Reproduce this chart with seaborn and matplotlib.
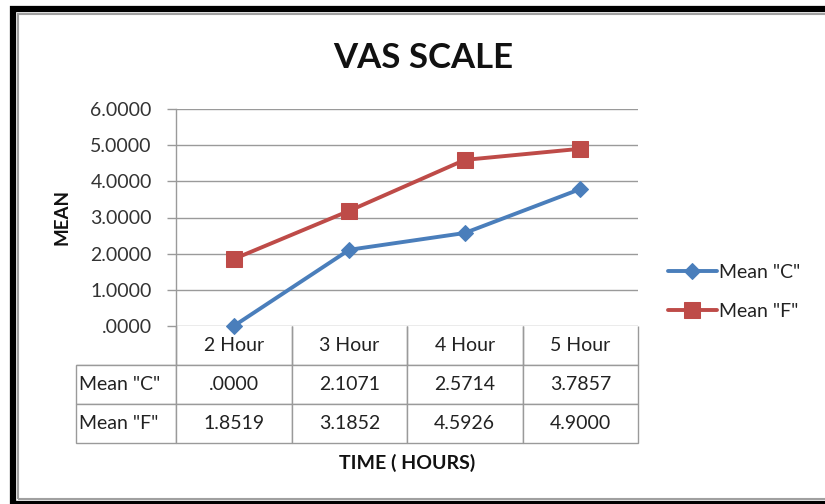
import matplotlib
matplotlib.use("Agg")
import matplotlib.pyplot as plt
import seaborn as sns
import pandas as pd
from matplotlib.patches import Rectangle

categories = ["2 Hour", "3 Hour", "4 Hour", "5 Hour"]
series_names = ['Mean "C"', 'Mean "F"']
mean_c = [0.0000, 2.1071, 2.5714, 3.7857]
mean_f = [1.8519, 3.1852, 4.5926, 4.9000]
table_c = [".0000", "2.1071", "2.5714", "3.7857"]
table_f = ["1.8519", "3.1852", "4.5926", "4.9000"]
yticks = [0, 1, 2, 3, 4, 5, 6]
ytick_labels = [".0000", "1.0000", "2.0000", "3.0000", "4.0000", "5.0000", "6.0000"]

sns.set_theme(style="white")
plt.rcParams["font.family"] = ["Lato", "DejaVu Sans"]

df = pd.DataFrame({
    "time": categories * 2,
    "x": list(range(len(categories))) * 2,
    "value": mean_c + mean_f,
    "series": [series_names[0]] * 4 + [series_names[1]] * 4,
})

W, H = 825, 504
fig = plt.figure(figsize=(W / 100, H / 100), dpi=100)
fig.patch.set_facecolor("white")

ax = fig.add_axes([176 / W, 1 - 326 / H, (638 - 176) / W, (326 - 109) / H])
colors = {series_names[0]: "#4A7EBB", series_names[1]: "#BE4B48"}
markers = {series_names[0]: "D", series_names[1]: "s"}
sizes = {series_names[0]: 8.5, series_names[1]: 11}

for name in series_names:
    sub = df[df["series"] == name]
    sns.lineplot(data=sub, x="x", y="value", ax=ax, color=colors[name],
                 marker=markers[name], markersize=sizes[name], linewidth=2.8,
                 markeredgecolor=colors[name], label=name, legend=False)

ax.set_xlim(-0.5, len(categories) - 0.5)
ax.set_ylim(0, 6)
ax.set_yticks(yticks)
ax.set_yticklabels(ytick_labels, fontsize=14, color="#333333")
ax.set_xticks([])
ax.set_xlabel("")
ax.set_ylabel("")
ax.grid(axis="y", color="#9a9a9a", linewidth=1.0)
for s in ["top", "right", "bottom"]:
    ax.spines[s].set_visible(False)
ax.spines["left"].set_color("#9a9a9a")
ax.spines["left"].set_linewidth(1.0)
ax.tick_params(axis="y", length=6.5, color="#9a9a9a", width=1.0, pad=11, left=True)
for line in ax.get_lines():
    line.set_clip_on(False)

# data table
ax_w = 638 - 176
ax_h = 326 - 109
cell_text = [[series_names[0]] + table_c, [series_names[1]] + table_f]
tbl = ax.table(cellText=cell_text, colLabels=[""] + categories,
               cellLoc="center",
               colWidths=[100] + [115.5] * 4,
               bbox=[(76 - 176) / ax_w, -(443 - 326) / ax_h, (638 - 76) / ax_w, (443 - 326) / ax_h])
tbl.auto_set_font_size(False)
for (r, c), cell in tbl.get_celld().items():
    cell.set_edgecolor("#9a9a9a")
    cell.set_linewidth(1.0)
    cell.get_text().set_fontsize(14)
    cell.get_text().set_color("#222222")
    if c == 0:
        cell.get_text().set_horizontalalignment("left")
        cell._loc = "left"
        cell.PAD = 0.03
    if r == 0 and c == 0:
        cell.visible_edges = "BR"
    if r == 0 and c > 0:
        cell.visible_edges = "LRB"

fig.text(423 / W, 1 - 58 / H, "VAS SCALE", ha="center", va="center",
         fontsize=25, fontweight="bold", color="#111111")
fig.text(62 / W, 1 - 217 / H, "MEAN", ha="center", va="center", rotation=90,
         fontsize=13.5, fontweight="bold", color="#111111")
fig.text(407 / W, 1 - 463 / H, "TIME ( HOURS)", ha="center", va="center",
         fontsize=14, fontweight="bold", color="#111111")

handles, labels = ax.get_legend_handles_labels()
leg = fig.legend(handles, labels, loc="center left",
                 bbox_to_anchor=(650 / W, 1 - 292 / H), frameon=False,
                 fontsize=14, handlelength=2.55, handletextpad=0.1,
                 labelspacing=1.15)
for t in leg.get_texts():
    t.set_color("#222222")

# outer frame (black) with thin gray inner edge
fig.patches.append(Rectangle((13 / W, 0), (W + 20 - 13) / W, (H - 9) / H,
                             transform=fig.transFigure, fill=False,
                             edgecolor="black", linewidth=4.5, clip_on=False))
fig.patches.append(Rectangle((17.5 / W, 5 / H), (W + 20 - 17.5) / W, (H - 13.5 - 5) / H,
                             transform=fig.transFigure, fill=False,
                             edgecolor="#a0a0a0", linewidth=1.5, clip_on=False))

fig.savefig("out.png", dpi=100, facecolor="white")
